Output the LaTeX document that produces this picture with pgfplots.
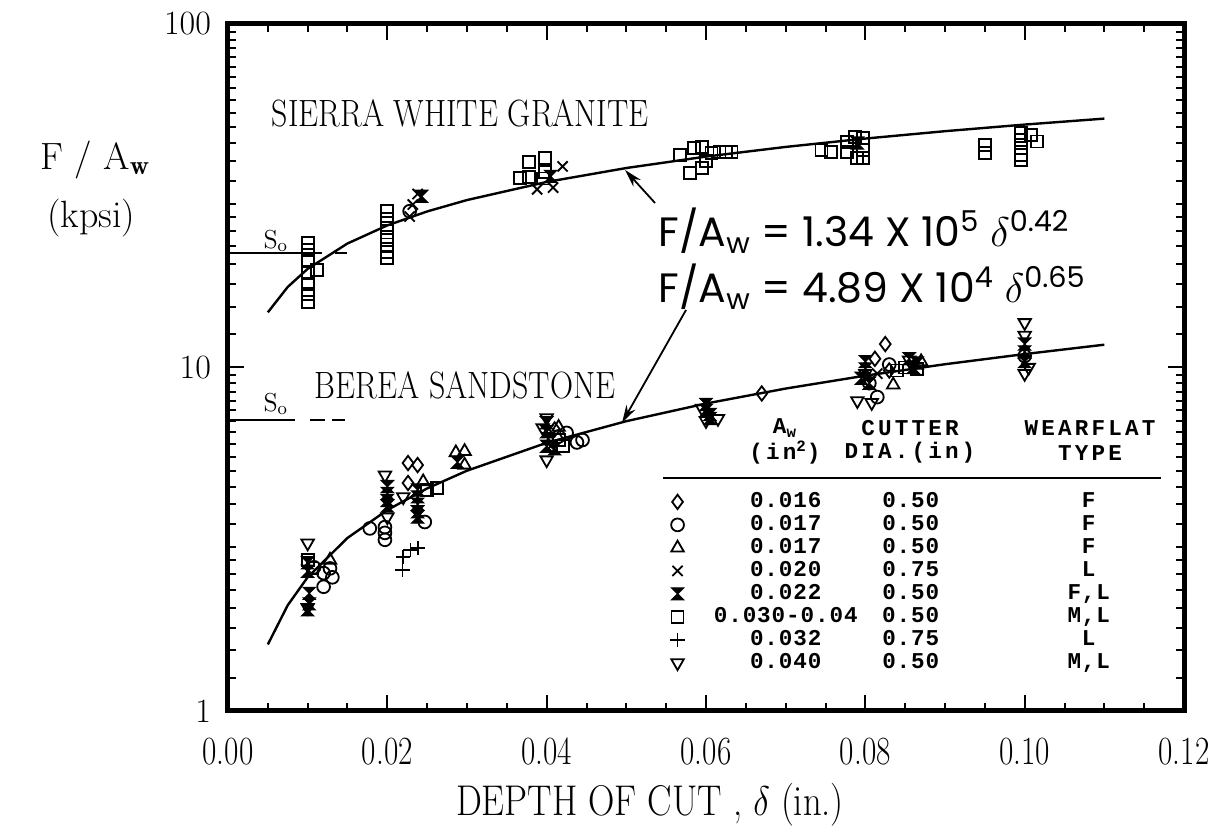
\documentclass[border=0pt]{standalone}
\usepackage{pgfplots}
\pgfplotsset{compat=1.18}
\usetikzlibrary{arrows.meta}
\usepackage{fontspec}
\newfontfamily\eqfont{Poppins}
\newfontfamily\tabfont[LetterSpace=4]{Liberation Mono}
\newfontfamily\headfont[LetterSpace=14]{Liberation Mono}

% filled hourglass mark
\pgfdeclareplotmark{hourglass}{%
  \pgfpathmoveto{\pgfqpoint{-\pgfplotmarksize}{\pgfplotmarksize}}%
  \pgfpathlineto{\pgfqpoint{\pgfplotmarksize}{\pgfplotmarksize}}%
  \pgfpathlineto{\pgfqpoint{-\pgfplotmarksize}{-\pgfplotmarksize}}%
  \pgfpathlineto{\pgfqpoint{\pgfplotmarksize}{-\pgfplotmarksize}}%
  \pgfpathclose
  \pgfusepathqfillstroke}

\newcommand\cbox[1]{\makebox[0pt][c]{#1}}
\newcommand\trow[3]{\rlap{\hspace*{50.5pt}\cbox{#1}}\rlap{\hspace*{113pt}\cbox{#2}}\hspace*{202pt}\cbox{#3}}
\newcommand\tabsize{\tabfont\bfseries\fontsize{11.3}{12}\selectfont}
\newcommand\headsize{\headfont\bfseries\fontsize{11.3}{12}\selectfont}

\begin{document}
\begin{tikzpicture}
\begin{axis}[
    scale only axis,
    width=478pt, height=343.5pt,
    xmin=0, xmax=0.12,
    ymode=log, ymin=1, ymax=100,
    xtick={0,0.02,0.04,0.06,0.08,0.10,0.12},
    xticklabels={0.00,0.02,0.04,0.06,0.08,0.10,0.12},
    minor x tick num=3,
    ytick={1,10,100}, yticklabels={1,10,100},
    minor ytick={1.25,1.5,1.75,2,2.25,2.5,2.75,3,3.5,4,4.5,5,5.5,6,6.5,7,7.5,8,8.5,9,9.5,
                 12.5,15,17.5,20,22.5,25,27.5,30,35,40,45,50,55,60,65,70,75,80,85,90,95},
    xtick pos=both, ytick pos=both,
    xticklabel pos=lower, yticklabel pos=left,
    tick align=inside,
    major tick length=8pt, minor tick length=4pt,
    axis line style={line width=2.5pt},
    tick style={line width=1pt, black},
    yticklabel style={font=\fontsize{17}{17}\selectfont, xshift=-5pt},
    xticklabel style={font=\fontsize{20}{20}\selectfont, xscale=0.78, yshift=-10pt},
    clip=false,
    legend style={at={(0.4623,0.3173)}, anchor=north west, draw=none, fill=none,
        inner sep=0pt, row sep=3pt,
        font=\tabsize,
        nodes={inner xsep=0pt, inner ysep=0pt, text height=7pt, text depth=1.5pt}},
    legend cell align=left,
    legend image code/.code={\draw[#1] plot coordinates {(3.5pt,0pt)};},
    every axis plot/.append style={black},
]

% fitted curves
\addplot[line width=1.2pt, no marks, forget plot] coordinates {
 (0.005,14.47)(0.0075,17.16)(0.01,19.37)(0.015,22.96)(0.02,25.92)(0.025,28.46)
 (0.03,30.72)(0.04,34.68)(0.05,38.08)(0.06,41.11)(0.07,43.86)(0.08,46.39)
 (0.09,48.74)(0.10,50.95)(0.11,53.03)};
\addplot[line width=1.2pt, no marks, forget plot] coordinates {
 (0.005,1.562)(0.0075,2.032)(0.01,2.451)(0.015,3.190)(0.02,3.847)(0.025,4.446)
 (0.03,5.006)(0.04,6.036)(0.05,6.977)(0.06,7.855)(0.07,8.682)(0.08,9.467)
 (0.09,10.22)(0.10,10.94)(0.11,11.65)};

% S_o levels
\addplot[line width=0.8pt, no marks, forget plot] coordinates {(0,21.5)(0.0118,21.5)};
\addplot[line width=0.8pt, no marks, forget plot] coordinates {(0.0134,21.5)(0.0149,21.5)};
\addplot[line width=0.8pt, no marks, forget plot] coordinates {(0,7.03)(0.0084,7.03)};
\addplot[line width=0.8pt, no marks, forget plot] coordinates {(0.0103,7.03)(0.0122,7.03)};
\addplot[line width=0.8pt, no marks, forget plot] coordinates {(0.0130,7.03)(0.0147,7.03)};

% data
\addplot[only marks, mark=diamond, mark size=3.6pt, mark options={line width=0.9pt}] coordinates {
 (0.0226,5.27)(0.0238,5.2)(0.0226,4.61)(0.041,6.6)(0.067,8.4)
 (0.0825,11.7)(0.0812,10.6)(0.083,9.8)};
\addlegendentry{\trow{0.016}{0.50}{F}}

\addplot[only marks, mark=o, mark size=3.2pt, mark options={line width=0.9pt}] coordinates {
 (0.0108,2.62)(0.0120,2.52)(0.0128,2.60)(0.0131,2.45)(0.0120,2.30)
 (0.0178,3.40)(0.0197,3.43)(0.0197,3.30)(0.0197,3.15)(0.0247,3.55)
 (0.0425,6.45)(0.0438,6.05)(0.0445,6.15)(0.0415,6.3)
 (0.0815,8.2)(0.0805,9.0)(0.083,10.2)(0.100,10.8)(0.0228,28.5)};
\addlegendentry{\trow{0.017}{0.50}{F}}

\addplot[only marks, mark=triangle, mark size=3.6pt, mark options={line width=0.9pt}] coordinates {
 (0.0128,2.75)(0.0286,5.65)(0.0297,5.7)(0.0297,5.2)(0.0415,6.7)
 (0.0835,8.9)(0.087,10.4)(0.0245,4.65)};
\addlegendentry{\trow{0.017}{0.50}{F}}

\addplot[only marks, mark=x, mark size=3.6pt, mark options={line width=0.9pt}] coordinates {
 (0.0228,27.5)(0.0232,29.8)(0.0238,32.0)(0.0388,33.0)(0.0408,33.4)
 (0.0420,38.5)(0.0405,5.9)(0.0815,9.6)};
\addlegendentry{\trow{0.020}{0.75}{L}}

\addplot[only marks, mark=hourglass, mark size=3pt, mark options={line width=0.6pt, fill=black}] coordinates {
 (0.0243,31.5)(0.0405,36.0)(0.0790,45.0)
 (0.010,2.7)(0.010,2.55)(0.0102,2.2)(0.0102,2.05)(0.010,1.97)
 (0.020,4.5)(0.020,4.3)(0.020,4.1)(0.020,3.95)
 (0.0238,4.4)(0.0238,4.2)(0.0238,4.0)(0.0238,3.8)(0.0238,3.67)
 (0.0288,5.3)(0.0400,6.9)(0.0400,6.5)(0.0402,6.2)(0.0400,5.9)(0.0410,5.8)
 (0.0600,7.8)(0.0600,7.5)(0.0605,7.3)(0.0605,7.1)
 (0.0795,9.3)(0.0800,9.9)(0.0805,9.0)(0.0855,10.6)(0.0860,10.0)(0.0865,10.3)(0.080,10.4)
 (0.1,11.7)(0.1,11.1)(0.1,10.4)};
\addlegendentry{\trow{0.022}{0.50}{F,L}}

\addplot[only marks, mark=square, mark size=3pt, mark options={line width=0.9pt}] coordinates {
 (0.0100,23.0)(0.0100,22.0)(0.0100,20.6)(0.0100,18.8)(0.0100,17.5)(0.0100,16.4)(0.0100,15.5)(0.0112,19.2)
 (0.0200,28.5)(0.0200,27.0)(0.0200,25.5)(0.0200,24.0)(0.0200,22.8)(0.0200,21.7)(0.0200,20.8)
 (0.0367,35.7)(0.0378,39.7)(0.0378,35.9)(0.0398,40.7)(0.0398,37.1)(0.0395,35.5)
 (0.0567,41.6)(0.0580,36.9)(0.0585,43.6)(0.0595,43.9)(0.0595,38.0)(0.0600,40.0)
 (0.0607,42.1)(0.0617,42.5)(0.0625,42.5)(0.0632,42.5)
 (0.0745,42.9)(0.0757,42.5)(0.0777,45.3)(0.0777,42.5)(0.0787,46.9)(0.0797,46.5)
 (0.0797,43.0)(0.0797,40.7)(0.0790,40.7)
 (0.0950,44.5)(0.0950,42.0)
 (0.0995,48.2)(0.0995,46.0)(0.0995,43.6)(0.0995,41.6)(0.0995,40.2)(0.1008,47.5)(0.1015,45.5)
 (0.0100,2.75)(0.0106,2.6)(0.0250,4.4)(0.0262,4.45)(0.0415,6.15)(0.0420,5.9)
 (0.084,9.8)(0.085,10.0)(0.0865,9.9)};
\addlegendentry{\trow{0.030-0.04}{0.50}{M,L}}

\addplot[only marks, mark=+, mark size=3.6pt, mark options={line width=0.9pt}] coordinates {
 (0.0220,2.81)(0.0229,2.94)(0.0238,2.98)(0.0219,2.57)};
\addlegendentry{\trow{0.032}{0.75}{L}}

\addplot[only marks, mark=triangle, mark size=3.6pt, mark options={line width=0.9pt, rotate=180}] coordinates {
 (0.0100,3.08)(0.0100,2.0)
 (0.0197,4.86)(0.0200,3.67)(0.0220,4.2)
 (0.0395,6.67)(0.0400,7.13)(0.0400,5.38)
 (0.0595,7.6)(0.0615,7.1)(0.0600,7.0)
 (0.0790,8.0)(0.0808,7.9)(0.0800,9.6)(0.0855,10.5)
 (0.1,13.5)(0.1,12.4)(0.1,9.6)(0.1005,10.0)};
\addlegendentry{\trow{0.040}{0.50}{M,L}}

% table header and rule
\node[font=\headsize] at (rel axis cs:0.5826,0.4119) {A\textsubscript{w}};
\node[font=\headsize] at (rel axis cs:0.5826,0.3755) {(in\textsuperscript{2})};
\node[font=\headsize] at (rel axis cs:0.7134,0.4119) {CUTTER};
\node[font=\headsize] at (rel axis cs:0.7134,0.3755) {DIA.(in)};
\node[font=\headsize] at (rel axis cs:0.9017,0.4119) {WEARFLAT};
\node[font=\headsize] at (rel axis cs:0.9017,0.3755) {TYPE};
\draw[line width=1pt] (rel axis cs:0.455,0.3392) -- (rel axis cs:0.976,0.3392);

% annotations
\node[font=\fontsize{19}{21}\selectfont, xscale=0.84] at (rel axis cs:0.243,0.870) {SIERRA WHITE GRANITE};
\node[font=\fontsize{19}{21}\selectfont, xscale=0.84] at (rel axis cs:0.248,0.4745) {BEREA SANDSTONE};
\node[font=\fontsize{13}{13}\selectfont] at (rel axis cs:0.0500,0.6840) {S\textsubscript{o}};
\node[font=\fontsize{13}{13}\selectfont] at (rel axis cs:0.0500,0.4467) {S\textsubscript{o}};
\node[anchor=base west, inner sep=0pt, font=\eqfont\fontsize{20.5}{24}\selectfont] at (rel axis cs:0.4500,0.6754)
  {F/A\textsubscript{w} = 1.34 X 10\textsuperscript{5} $\delta$\textsuperscript{0.42}};
\node[anchor=base west, inner sep=0pt, font=\eqfont\fontsize{20.5}{24}\selectfont] at (rel axis cs:0.4500,0.5939)
  {F/A\textsubscript{w} = 4.89 X 10\textsuperscript{4} $\delta$\textsuperscript{0.65}};
\draw[line width=0.9pt, -{Stealth[length=9pt,width=5pt]}] (rel axis cs:0.4467,0.7394) -- (rel axis cs:0.4153,0.7875);
\draw[line width=0.9pt, -{Stealth[length=9pt,width=5pt]}] (rel axis cs:0.4791,0.5837) -- (rel axis cs:0.4121,0.4192);

% axis titles
\node[font=\fontsize{19}{21}\selectfont] at (rel axis cs:-0.139,0.802) {F / A$_\mathbf{w}$};
\node[font=\fontsize{19}{21}\selectfont] at (rel axis cs:-0.143,0.718) {(kpsi)};
\node[font=\fontsize{21.5}{24}\selectfont, xscale=0.85] at (rel axis cs:0.4414,-0.1368) {DEPTH OF CUT , $\delta$ (in.)};

\coordinate (bbsw) at (rel axis cs:-0.2385,-0.1834);
\coordinate (bbne) at (rel axis cs:1.0429,1.0349);
\end{axis}
\pgfresetboundingbox
\path (bbsw) rectangle (bbne);
\end{tikzpicture}
\end{document}
